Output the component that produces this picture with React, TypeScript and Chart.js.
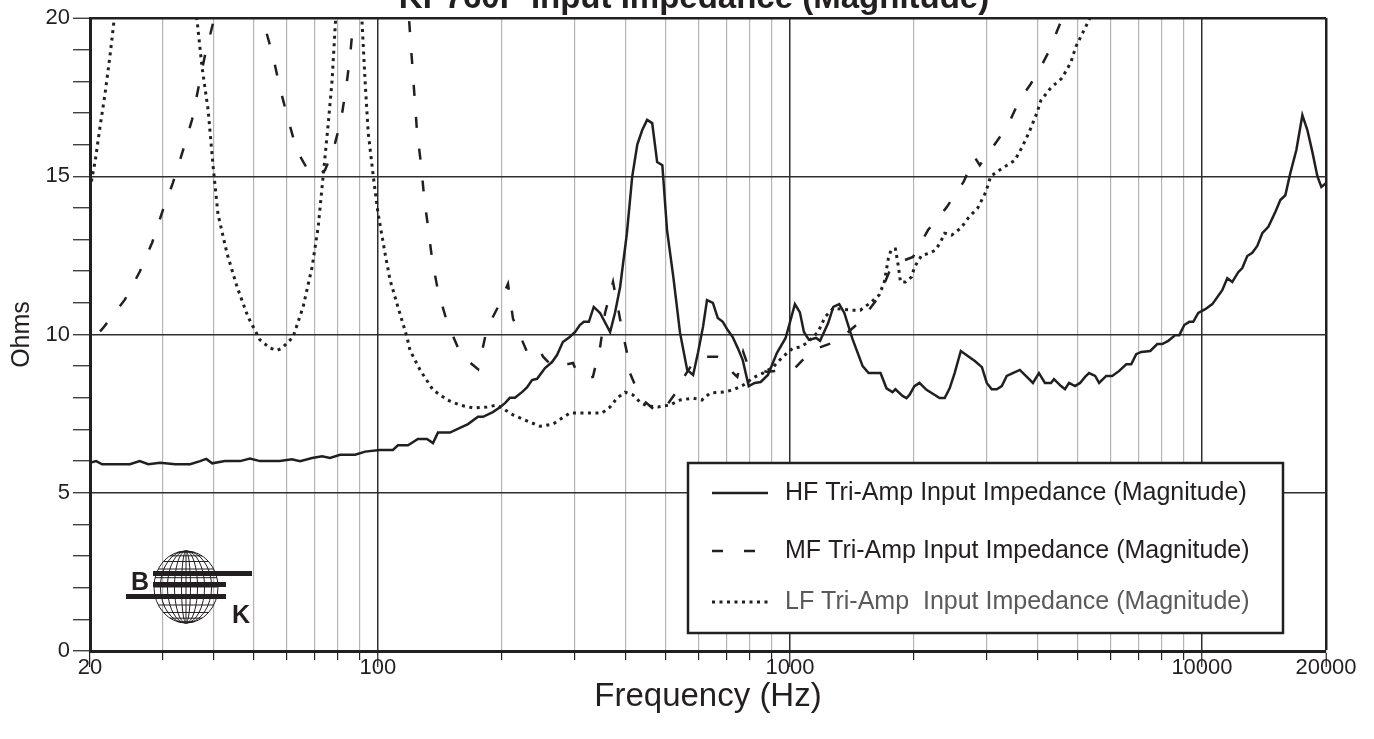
import React, { useEffect, useRef } from 'react';
import { Chart, registerables } from 'chart.js';

Chart.register(...registerables);

const TITLE = 'KP760P Input Impedance (Magnitude)';
const X_TITLE = 'Frequency (Hz)';
const Y_TITLE = 'Ohms';

const X_TICKS = [20, 30, 40, 50, 60, 70, 80, 90, 100, 200, 300, 400, 500, 600, 700, 800, 900, 1000, 2000, 3000, 4000, 5000, 6000, 7000, 8000, 9000, 10000, 20000];
const X_LABELED = [20, 100, 1000, 10000, 20000];
const X_MAJOR_GRID = [100, 1000, 10000];
const Y_LABELED = [0, 5, 10, 15, 20];

const SERIES_LABELS = [
  'HF Tri-Amp Input Impedance (Magnitude)',
  'MF Tri-Amp Input Impedance (Magnitude)',
  'LF Tri-Amp  Input Impedance (Magnitude)',
];

const HF_FREQ = [
  20, 20.7, 21.4, 25, 26.4, 27.7, 29.6, 32.2, 35, 37,
  38.3, 39.6, 42.5, 46.3, 48.9, 51.7, 57.8, 61.8, 64.7, 69.2,
  73.2, 76.5, 80.9, 88, 93.1, 101, 108.7, 111.8, 118.3, 125,
  131.5, 136, 139.8, 149.5, 158.1, 165.4, 174.9, 179.9, 190, 197.8,
  203.4, 209, 215, 223.6, 230, 236.5, 243.3, 254.4, 264.5, 272,
  281, 292, 301, 309, 316, 325, 334, 346, 366, 376,
  387, 402, 414, 426, 438, 450, 463, 476, 490, 503,
  521, 541, 563, 582, 598, 615, 629, 650, 668, 687,
  706, 726, 747, 768, 794, 821, 849, 884, 930, 976,
  1028, 1057, 1081, 1112, 1157, 1183, 1238, 1274, 1317, 1355,
  1418, 1501, 1552, 1659, 1715, 1773, 1803, 1876, 1918, 1950,
  2005, 2062, 2145, 2308, 2374, 2441, 2510, 2598, 2701, 2810,
  2923, 3004, 3088, 3176, 3266, 3359, 3474, 3613, 3737, 3887,
  4020, 4158, 4300, 4373, 4548, 4651, 4757, 4920, 5060, 5203,
  5321, 5504, 5628, 5854, 6054, 6297, 6549, 6734, 6925, 7121,
  7490, 7788, 8008, 8282, 8614, 8809, 9058, 9315, 9525, 9795,
  10187, 10595, 11200, 11520, 11845, 12250, 12527, 12882, 13247, 13622,
  14008, 14488, 15067, 15495, 15934, 16385, 16946, 17526, 18022, 18532,
  19057, 19488, 20000,
];
const HF_OHMS = [
  5.95, 6.0, 5.9, 5.9, 6.0, 5.9, 5.95, 5.9, 5.9, 6.0,
  6.07, 5.93, 6.0, 6.0, 6.08, 6.0, 6.0, 6.06, 6.0, 6.1,
  6.15, 6.1, 6.2, 6.2, 6.3, 6.35, 6.35, 6.5, 6.5, 6.7,
  6.7, 6.57, 6.9, 6.9, 7.05, 7.17, 7.4, 7.4, 7.55, 7.7,
  7.83, 8.0, 8.0, 8.18, 8.33, 8.56, 8.6, 8.94, 9.13, 9.35,
  9.76, 9.92, 10.08, 10.3, 10.4, 10.4, 10.87, 10.68, 10.08, 10.68,
  11.5, 13.2, 14.98, 16.0, 16.46, 16.78, 16.68, 15.45, 15.35, 13.3,
  11.82, 10.05, 8.88, 8.72, 9.42, 10.24, 11.09, 11.0, 10.52, 10.4,
  10.14, 9.92, 9.57, 9.19, 8.37, 8.47, 8.5, 8.72, 9.42, 9.89,
  10.96, 10.7, 10.08, 9.83, 9.89, 9.8, 10.36, 10.87, 10.96, 10.68,
  9.86, 9.0, 8.78, 8.78, 8.3, 8.18, 8.27, 8.06, 7.99, 8.09,
  8.37, 8.47, 8.25, 7.99, 7.99, 8.3, 8.78, 9.48, 9.32, 9.16,
  8.97, 8.47, 8.27, 8.27, 8.37, 8.69, 8.78, 8.88, 8.69, 8.47,
  8.78, 8.47, 8.47, 8.59, 8.37, 8.27, 8.47, 8.37, 8.47, 8.66,
  8.78, 8.69, 8.47, 8.69, 8.69, 8.85, 9.06, 9.06, 9.38, 9.45,
  9.48, 9.7, 9.7, 9.8, 9.98, 9.98, 10.3, 10.4, 10.4, 10.68,
  10.8, 10.96, 11.4, 11.78, 11.66, 11.97, 12.1, 12.48, 12.58, 12.8,
  13.2, 13.4, 13.87, 14.25, 14.4, 15.1, 15.83, 16.93, 16.46, 15.77,
  15.0, 14.66, 14.78,
];

const MF_FREQ = [
  21.15, 21.5, 24.3, 26.4, 28.3, 30.0, 31.8, 33.6, 35.4, 36.6,
  38.0, 39.8, 45.9, 53.2, 55.6, 57.8, 60.5, 63.6, 66.9, 70.4,
  71.6, 74.4, 77.8, 81.4, 83.7, 85.6, 87.0, 102, 118.9, 123,
  124.4, 127.3, 129.4, 132.4, 135.4, 140, 147.4, 158, 160.8, 175,
  177, 184, 195.6, 206.8, 212.7, 217.5, 230, 244.6, 251.6, 265.9,
  273.4, 297.5, 304.2, 323.3, 332.4, 346, 355.8, 372, 380.4, 391.3,
  402.2, 409, 427.6, 440, 478, 491.8, 534.7, 547, 581.5, 604.5,
  665.7, 688.4, 728.4, 745, 770, 787, 832, 879, 983, 1028,
  1131, 1306, 1480, 1645, 1770, 1989, 2163, 2394, 2638, 2807,
  2888, 3098, 3378, 3604, 3833, 4045, 4233, 4550, 4917,
];
const MF_OHMS = [
  10.1, 10.2, 11.1, 11.98, 12.9, 13.9, 14.8, 15.8, 16.8, 17.75,
  18.8, 19.85, 26, 19.7, 18.8, 17.8, 16.8, 15.8, 15.3, 15.05,
  15.0, 15.2, 15.8, 16.8, 17.8, 18.8, 19.85, 28, 20.0, 17.3,
  16.4, 15.35, 14.34, 13.36, 12.35, 11.35, 10.36, 9.45, 9.3, 8.9,
  9.2, 10.2, 10.87, 11.6, 10.5, 10.2, 9.45, 9.6, 9.3, 8.97,
  9.0, 9.1, 8.78, 8.63, 8.66, 9.6, 10.68, 11.66, 11.0, 10.14,
  9.42, 8.78, 8.18, 7.93, 7.52, 7.6, 8.25, 8.56, 9.1, 9.3,
  9.3, 9.2, 8.78, 8.66, 9.45, 9.1, 8.88, 8.82, 8.88, 8.94,
  9.5, 9.8, 10.4, 11.2, 12.2, 12.45, 13.3, 14.0, 14.82, 15.6,
  15.35, 15.9, 16.6, 17.4, 17.9, 18.4, 18.9, 19.9, 21,
];

const LF_FREQ = [
  20, 20.6, 21.15, 21.75, 22.36, 22.87, 28.7, 36.4, 37.4, 38.7,
  39.8, 40.9, 43.0, 45.5, 48.4, 51.7, 54.7, 56.9, 58.5, 62.2,
  65.8, 69.2, 71.6, 73.6, 75.6, 77.4, 78.7, 84.6, 91.5, 93.1,
  94.7, 97.4, 100, 104, 107, 111.8, 117.6, 119.6, 126.5, 136,
  147.4, 158, 170, 183.9, 194.5, 200, 212.7, 230, 247.3, 265.9,
  279.7, 292.4, 321.7, 349.8, 366, 380.4, 397.8, 415.8, 432, 450,
  478, 511, 541, 581.5, 611.5, 639.5, 688.4, 728.4, 770, 813.6,
  860, 910, 961.7, 1017, 1057, 1099, 1170, 1216, 1274, 1340,
  1409, 1482, 1567, 1647, 1694, 1733, 1762, 1803, 1833, 1854,
  1907, 1973, 2005, 2087, 2194, 2256, 2320, 2374, 2468, 2598,
  2716, 2857, 2987, 3071, 3229, 3512, 3653, 3800, 3975, 4066,
  4300, 4573, 4806, 4944, 5143, 5347, 5654,
];
const LF_OHMS = [
  14.6, 15.5, 16.56, 17.6, 18.8, 19.9, 30, 19.9, 18.45, 17.1,
  15.3, 13.8, 12.57, 11.5, 10.55, 9.83, 9.57, 9.5, 9.57, 9.92,
  10.87, 12.13, 13.4, 15.0, 16.56, 18.04, 19.7, 26, 19.84, 17.95,
  16.37, 15.0, 13.84, 12.57, 11.72, 10.87, 9.92, 9.5, 8.88, 8.25,
  7.93, 7.77, 7.68, 7.71, 7.77, 7.68, 7.46, 7.27, 7.1, 7.17,
  7.36, 7.52, 7.52, 7.52, 7.71, 7.99, 8.18, 8.09, 7.87, 7.74,
  7.71, 7.77, 7.93, 7.99, 7.93, 8.15, 8.18, 8.25, 8.4, 8.63,
  8.78, 8.97, 9.3, 9.57, 9.6, 9.73, 10.08, 10.55, 10.83, 10.8,
  10.77, 10.77, 11.0, 11.25, 11.66, 12.4, 12.7, 12.7, 12.15, 11.66,
  11.66, 11.82, 12.13, 12.5, 12.58, 12.67, 12.92, 13.2, 13.14, 13.36,
  13.7, 14.0, 14.5, 15.0, 15.2, 15.5, 15.9, 16.37, 17.0, 17.4,
  17.8, 18.1, 18.6, 19.1, 19.55, 20.0, 20.6,
];

const INK = '#231f20';
const GRID_MAJOR = '#2e2e2e';
const GRID_MINOR = '#b4b4b4';
const SANS = '"Liberation Sans", Arial, sans-serif';

const toPoints = (xs: number[], ys: number[]) =>
  xs.slice(0, Math.min(xs.length, ys.length)).map((x, i) => ({ x, y: ys[i] }));

const overlayPlugin = {
  id: 'overlay',
  afterDraw(chart: any) {
    const ctx: CanvasRenderingContext2D = chart.ctx;
    ctx.save();

    // Title (clipped at the top, as in the reference)
    ctx.font = `bold 33px ${SANS}`;
    ctx.fillStyle = INK;
    ctx.textAlign = 'center';
    ctx.textBaseline = 'alphabetic';
    ctx.fillText(TITLE, 694, 8);

    // Legend box
    const bx = 688, by = 463, bw = 595, bh = 170;
    ctx.fillStyle = '#ffffff';
    ctx.fillRect(bx, by, bw, bh);
    ctx.lineWidth = 2.5;
    ctx.strokeStyle = INK;
    ctx.setLineDash([]);
    ctx.strokeRect(bx, by, bw, bh);
    const rows = [493, 551, 602];
    chart.data.datasets.forEach((ds: any, i: number) => {
      ctx.beginPath();
      ctx.setLineDash(ds.borderDash || []);
      ctx.lineCap = 'butt';
      ctx.lineWidth = ds.borderWidth;
      ctx.strokeStyle = ds.borderColor;
      ctx.moveTo(712, rows[i]);
      ctx.lineTo(768, rows[i]);
      ctx.stroke();
      ctx.setLineDash([]);
      ctx.font = `25px ${SANS}`;
      ctx.textAlign = 'left';
      ctx.textBaseline = 'middle';
      ctx.fillStyle = i === 2 ? '#5a5a5a' : INK;
      ctx.fillText(ds.label, 785, rows[i]);
    });

    // Logo
    const cx = 186, cy = 587, rx = 32, ry = 36;
    ctx.lineWidth = 1;
    ctx.strokeStyle = INK;
    ctx.beginPath();
    ctx.ellipse(cx, cy, rx, ry, 0, 0, Math.PI * 2);
    ctx.stroke();
    [0.8, 0.58, 0.36, 0.14].forEach((k) => {
      ctx.beginPath();
      ctx.ellipse(cx, cy, rx * k, ry, 0, 0, Math.PI * 2);
      ctx.stroke();
    });
    ctx.beginPath();
    ctx.moveTo(cx, cy - ry);
    ctx.lineTo(cx, cy + ry);
    ctx.stroke();
    [-75, -60, -45, -30, -15, 0, 15, 30, 45, 60, 75].forEach((deg) => {
      const r = (deg * Math.PI) / 180;
      const y = cy + ry * Math.sin(r);
      const hw = rx * Math.cos(r);
      ctx.beginPath();
      ctx.moveTo(cx - hw, y);
      ctx.lineTo(cx + hw, y);
      ctx.stroke();
    });
    ctx.fillStyle = INK;
    ctx.fillRect(153, 571, 99, 5);
    ctx.fillRect(153, 582, 73, 5);
    ctx.fillRect(126, 594, 100, 5);
    ctx.font = `bold 25px ${SANS}`;
    ctx.textAlign = 'left';
    ctx.textBaseline = 'alphabetic';
    ctx.fillText('B', 131, 590);
    ctx.fillText('K', 232, 623);

    ctx.restore();
  },
};

export default function App() {
  const ref = useRef<HTMLCanvasElement>(null);

  useEffect(() => {
    const canvas = ref.current;
    if (!canvas) return;
    const chart = new Chart(canvas, {
      type: 'line',
      data: {
        datasets: [
          {
            label: SERIES_LABELS[0],
            data: toPoints(HF_FREQ, HF_OHMS),
            borderColor: INK,
            borderWidth: 2.5,
            borderDash: [],
            pointRadius: 0,
            tension: 0,
            fill: false,
            clip: 0,
          },
          {
            label: SERIES_LABELS[1],
            data: toPoints(MF_FREQ, MF_OHMS),
            borderColor: INK,
            borderWidth: 2.5,
            borderDash: [11, 21],
            borderCapStyle: 'butt',
            pointRadius: 0,
            tension: 0,
            fill: false,
            clip: 0,
          },
          {
            label: SERIES_LABELS[2],
            data: toPoints(LF_FREQ, LF_OHMS),
            borderColor: INK,
            borderWidth: 3,
            borderDash: [3, 4.5],
            borderCapStyle: 'butt',
            pointRadius: 0,
            tension: 0,
            fill: false,
            clip: 0,
          },
        ] as any,
      },
      options: {
        responsive: false,
        maintainAspectRatio: false,
        devicePixelRatio: 1,
        animation: false,
        events: [],
        layout: { padding: { top: 18, right: 48, left: 0, bottom: 0 } },
        plugins: {
          legend: { display: false },
          tooltip: { enabled: false },
          title: { display: false },
        },
        scales: {
          x: {
            type: 'logarithmic',
            min: 20,
            max: 20000,
            afterBuildTicks: (axis: any) => {
              axis.ticks = X_TICKS.map((v) => ({ value: v }));
            },
            afterFit: (axis: any) => {
              axis.height = 88;
            },
            ticks: {
              autoSkip: false,
              maxRotation: 0,
              minRotation: 0,
              padding: -12,
              color: INK,
              font: { family: SANS, size: 22 },
              callback: (v: any) => (X_LABELED.includes(Number(v)) ? String(v) : ''),
            },
            grid: {
              color: (c: any) => {
                const v = c.tick && c.tick.value;
                if (v === 20 || v === 20000) return INK;
                return X_MAJOR_GRID.includes(v) ? GRID_MAJOR : GRID_MINOR;
              },
              lineWidth: (c: any) => {
                const v = c.tick && c.tick.value;
                if (v === 20000) return 2.5;
                return X_MAJOR_GRID.includes(v) ? 1.5 : 1.2;
              },
              tickLength: 16,
              tickColor: INK,
              tickWidth: 1.2,
              tickBorderDash: (c: any) => {
                const v = c.tick && c.tick.value;
                return X_LABELED.includes(v) ? [] : [7, 100];
              },
            } as any,
            border: { color: INK, width: 3 },
            title: {
              display: true,
              text: X_TITLE,
              color: INK,
              font: { family: SANS, size: 33, lineHeight: 1.2 },
              padding: { top: 0, bottom: 22 },
            },
          },
          y: {
            type: 'linear',
            min: 0,
            max: 20,
            afterFit: (axis: any) => {
              axis.width = 90;
            },
            ticks: {
              stepSize: 1,
              autoSkip: false,
              padding: 3,
              color: INK,
              font: { family: SANS, size: 22 },
              callback: (v: any) => (Y_LABELED.includes(Number(v)) ? String(v) : ''),
            },
            grid: {
              color: (c: any) => {
                const v = c.tick && c.tick.value;
                if (v === 20) return INK;
                return Y_LABELED.includes(v) ? GRID_MAJOR : 'transparent';
              },
              lineWidth: (c: any) => {
                const v = c.tick && c.tick.value;
                return v === 20 ? 2.5 : 1.5;
              },
              tickLength: 17,
              tickColor: INK,
              tickWidth: 1.2,
            } as any,
            border: { color: INK, width: 3 },
            title: {
              display: true,
              text: Y_TITLE,
              color: INK,
              font: { family: SANS, size: 25, lineHeight: 1.2 },
              padding: { top: 7, bottom: 0 },
            },
          },
        },
      } as any,
      plugins: [overlayPlugin],
    });
    return () => chart.destroy();
  }, []);

  return (
    <div style={{ position: 'fixed', left: 0, top: 0, width: 1374, height: 739, background: '#fff' }}>
      <canvas ref={ref} width={1374} height={739} style={{ display: 'block', width: 1374, height: 739 }} />
    </div>
  );
}
